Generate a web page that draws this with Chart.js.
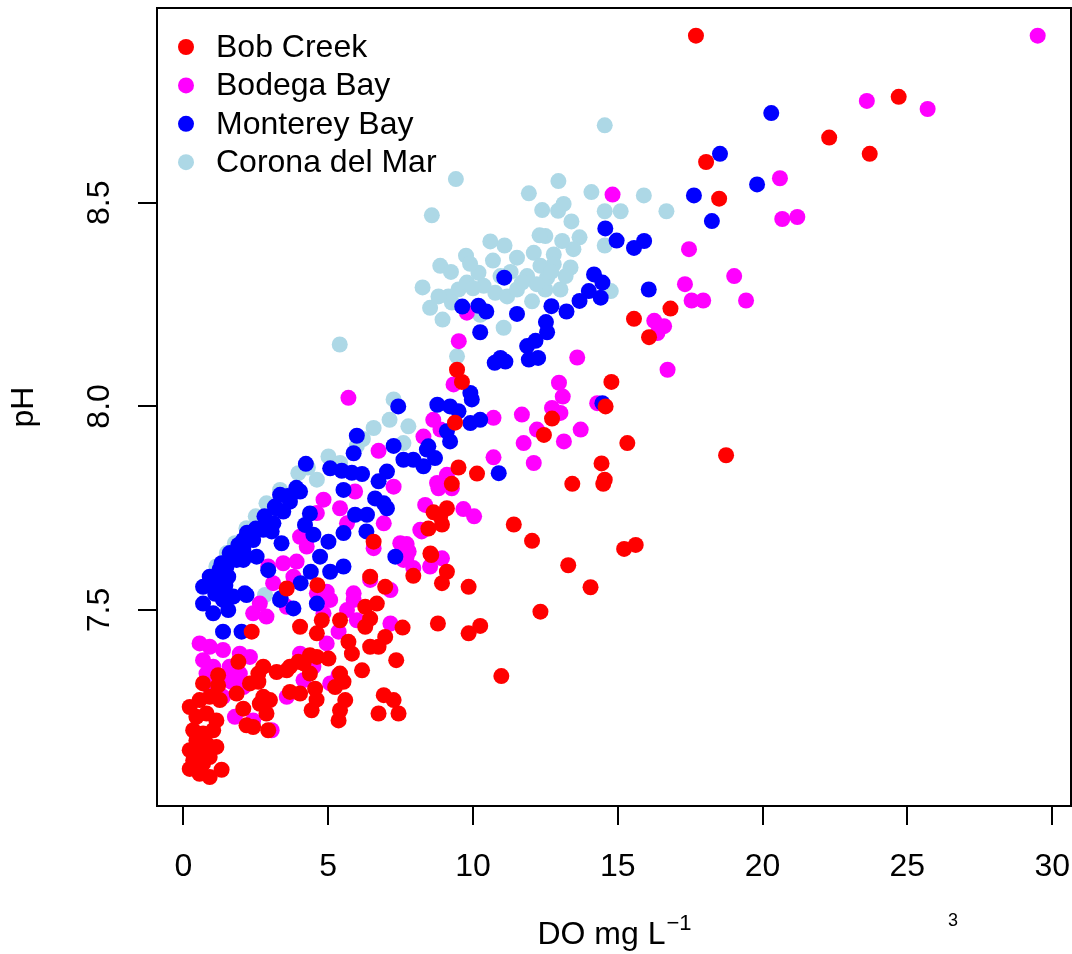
<!DOCTYPE html>
<html>
<head>
<meta charset="utf-8">
<script src="https://cdn.jsdelivr.net/npm/chart.js@4.4.0/dist/chart.umd.min.js"></script>
<style>
body { margin: 0; background: #fff; }
#wrap { width: 1072px; height: 954px; }
</style>
</head>
<body>
<div id="wrap"><canvas id="myChart" width="1072" height="954"></canvas></div>
<script>
const sites = ["Bob Creek", "Bodega Bay", "Monterey Bay", "Corona del Mar"];
const siteColors = ["#FF0000", "#FF00FF", "#0000FF", "#ADD8E6"];
const xTicks = [0, 5, 10, 15, 20, 25, 30];
const yTicks = [7.5, 8.0, 8.5];

// [DO mg/L, pH] per site
const bobCreek = [
  [17.7,8.91],[24.7,8.76],[22.3,8.66],[23.7,8.62],[18.05,8.6],[18.5,8.51],[18.74,7.88],[16.82,8.24],[15.56,8.215],[16.08,8.17],
  [9.45,8.09],[9.62,8.06],[14.78,8.06],[14.58,8.0],[12.73,7.97],[12.45,7.93],[15.33,7.91],[9.38,7.96],
  [14.44,7.86],[13.43,7.81],[14.55,7.82],[14.5,7.81],[9.5,7.85],[10.14,7.835],[9.27,7.81],
  [9.1,7.75],[8.64,7.74],[8.87,7.73],[8.46,7.7],[8.93,7.71],[11.41,7.71],[12.04,7.67],[15.22,7.65],[15.62,7.66],[13.29,7.61],[14.06,7.556],
  [8.56,7.635],[9.1,7.594],[7.94,7.584],[8.93,7.566],[9.85,7.557],[12.33,7.496],[8.79,7.467],[7.57,7.457],[10.25,7.461],[9.85,7.443],
  [10.98,7.338],[7.35,7.377],[7.26,7.279],[7.43,7.246],[6.57,7.668],[6.45,7.582],[6.97,7.557],[3.57,7.553],[4.63,7.561],
  [0.22,7.262],[0.56,7.279],[0.91,7.287],[1.26,7.279],[0.45,7.238],[0.8,7.246],[1.14,7.229],[0.34,7.205],[0.68,7.197],[1.03,7.205],
  [0.45,7.18],[0.8,7.172],[1.14,7.164],[0.22,7.156],[0.56,7.148],[0.91,7.139],[0.34,7.131],[0.68,7.123],[0.22,7.11],[0.56,7.098],
  [0.91,7.09],[1.32,7.108],
  [0.68,7.32],[1.2,7.34],[1.2,7.315],[1.9,7.373],[1.84,7.295],[2.07,7.258],[2.18,7.217],[2.41,7.213],[2.93,7.205],[2.3,7.32],
  [2.59,7.324],[2.76,7.361],[2.59,7.344],[2.76,7.287],[2.99,7.279],[2.87,7.246],[2.64,7.27],[3.22,7.348],[3.57,7.352],[3.68,7.299],
  [4.03,7.295],[4.55,7.307],[4.6,7.28],[4.43,7.254],[3.97,7.373],[4.37,7.389],[4.61,7.385],[5.01,7.381],[4.15,7.369],[4.37,7.344],
  [3.68,7.361],[4.03,7.459],[4.61,7.443],[4.78,7.475],[5.41,7.475],[5.7,7.422],[5.82,7.393],[5.41,7.344],[5.53,7.324],[5.24,7.311],
  [5.59,7.279],[5.41,7.254],[5.36,7.229],[6.17,7.352],[6.28,7.508],[6.68,7.516],[6.28,7.459],[6.45,7.479],[6.97,7.434],[6.45,7.41],
  [6.74,7.41],[6.74,7.246],[6.92,7.291],[8.53,7.639],[2.36,7.447]
];
const bodegaBay = [
  [29.5,8.91],[23.6,8.75],[25.7,8.73],[20.6,8.56],[20.68,8.46],[21.2,8.465],[19.02,8.32],[17.95,8.26],[19.43,8.26],[17.55,8.26],
  [17.46,8.386],[17.32,8.3],[16.26,8.21],[16.6,8.197],[16.37,8.18],[16.72,8.09],[14.82,8.52],[13.6,8.12],[9.51,8.16],[9.33,8.054],
  [12.97,8.058],[13.1,8.024],[12.73,7.996],[13.02,7.984],[14.29,8.008],[11.69,7.98],[10.71,7.972],[13.72,7.943],[12.21,7.943],[13.14,7.914],
  [11.75,7.91],[8.63,7.967],[8.29,7.926],[9.79,8.23],[12.1,7.861],[10.71,7.875],[9.1,7.832],[8.81,7.799],[9.27,7.799],[8.35,7.758],
  [9.67,7.748],[10.04,7.73],[8.23,7.693],[7.71,7.662],[7.71,7.631],[7.94,7.603],[8.93,7.627],[8.52,7.607],
  [5.7,8.021],[8.88,7.943],[6.74,7.891],[7.26,7.803],[8.76,7.812],[5.93,7.791],[4.84,7.771],[4.61,7.738],[5.41,7.75],[5.65,7.713],
  [6.92,7.713],[4.03,7.68],[4.26,7.656],[8.18,7.697],[7.49,7.664],[7.78,7.644],[6.57,7.652],[7.6,7.623],[3.45,7.615],[3.91,7.619],
  [6.45,7.574],[7.15,7.549],[3.1,7.566],[4.95,7.545],[5.88,7.541],
  [0.56,7.418],[0.91,7.41],[1.37,7.402],[1.95,7.393],[2.3,7.385],[0.68,7.377],[1.03,7.361],[1.6,7.361],[0.8,7.344],[1.37,7.336],
  [1.95,7.344],[0.91,7.311],[1.66,7.324],[2.07,7.311],[1.37,7.287],[1.78,7.238],[2.41,7.229],[3.05,7.205],[2.41,7.492],[2.64,7.516],
  [2.87,7.484],[3.8,7.582],[3.57,7.508],[4.61,7.541],[5.07,7.525],[4.84,7.492],[5.88,7.525],[5.65,7.5],[5.36,7.447],[4.95,7.418],
  [5.99,7.475],[4.03,7.393],[4.49,7.361],[4.15,7.328],[3.57,7.287],[5.07,7.32],[5.36,7.34],[7.15,7.467],[2.93,7.607]
];
const montereyBay = [
  [20.3,8.72],[18.53,8.62],[19.81,8.545],[18.25,8.455],[17.63,8.518],[16.07,8.287],[11.08,8.316],[9.63,8.245],[10.19,8.247],[10.46,8.233],
  [11.52,8.227],[10.25,8.182],[12.71,8.246],[13.23,8.233],[13.68,8.259],[14.18,8.324],[14.47,8.304],[14.0,8.283],[14.41,8.267],[12.52,8.207],
  [12.56,8.182],[12.16,8.161],[11.87,8.148],[11.93,8.115],[12.25,8.119],[10.75,8.107],[10.95,8.119],[11.12,8.11],[14.57,8.437],[14.96,8.407],
  [15.56,8.389],[15.91,8.406],[9.91,8.033],[9.96,8.017],[8.77,8.004],[9.21,8.0],[9.5,7.988],[9.91,7.959],[10.25,7.967],[9.1,7.939],
  [9.21,7.914],[8.46,7.902],[14.47,8.008],[7.42,8.0],[10.89,7.836],[8.41,7.894],[8.69,7.873],[8.29,7.853],[7.94,7.869],[7.6,7.869],
  [5.99,7.928],[5.88,7.885],[4.23,7.859],[5.07,7.848],[5.47,7.842],[5.82,7.837],[6.17,7.834],[7.26,7.903],[6.74,7.816],[7.03,7.84],
  [5.53,7.795],[6.62,7.774],[6.92,7.762],[7.03,7.75],[3.34,7.783],[3.68,7.766],[4.03,7.791],[3.16,7.754],[3.45,7.742],[4.37,7.737],
  [5.93,7.734],[6.34,7.734],[4.2,7.709],[5.53,7.689],[6.32,7.693],[4.49,7.685],[5.01,7.668],[4.72,7.631],[3.39,7.664],[3.05,7.693],
  [2.41,7.693],[2.07,7.672],[1.72,7.639],[1.32,7.615],[0.91,7.582],[0.68,7.557],[2.93,7.598],[2.53,7.631],[2.07,7.623],[1.55,7.582],
  [5.53,7.607],[5.07,7.594],[4.4,7.594],[4.05,7.566],[3.36,7.529],[7.32,7.631],
  [1.37,7.447],[2.01,7.447],[2.12,7.541],[0.68,7.516],[1.03,7.492],[1.37,7.525],[1.72,7.533],[1.55,7.5],[1.14,7.582],[1.49,7.607],
  [1.84,7.623],[2.07,7.648],[2.41,7.672],[2.76,7.697],[3.11,7.713],[2.18,7.537],[3.34,7.525],[3.8,7.504],[4.61,7.516],
  [1.0,7.57],[1.25,7.6],[1.6,7.64],[1.9,7.66],[2.2,7.69],[2.5,7.7],[2.8,7.73],[3.2,7.75],[3.6,7.78],[3.9,7.8],[1.1,7.54],[1.45,7.56]
];
const coronaDelMar = [
  [14.55,8.69],[9.41,8.558],[8.58,8.469],[11.93,8.523],[12.95,8.553],[14.09,8.526],[15.9,8.518],[16.68,8.479],[12.39,8.482],[12.94,8.48],
  [13.13,8.497],[13.4,8.454],[14.55,8.479],[15.1,8.479],[14.55,8.395],[13.68,8.415],[13.47,8.386],[12.5,8.418],[13.08,8.406],[10.6,8.405],
  [11.09,8.395],[9.76,8.37],[8.87,8.345],[9.24,8.33],[10.69,8.358],[11.52,8.365],[12.1,8.377],[12.79,8.373],[13.37,8.341],[8.26,8.292],
  [8.52,8.242],[8.95,8.213],[9.15,8.27],[9.5,8.287],[9.79,8.304],[10.19,8.328],[10.37,8.296],[10.77,8.279],[11.18,8.27],[11.52,8.287],
  [12.04,8.258],[12.5,8.287],[13.02,8.287],[12.33,8.345],[11.87,8.32],[14.76,8.283],[11.06,8.193],[10.25,8.225],[9.45,8.123],[9.27,8.255],
  [8.81,8.27],[12.79,8.349],[12.56,8.316],[11.69,8.304],[10.95,8.32],[12.3,8.42],[12.7,8.33],[13.2,8.32],[10.0,8.29],[11.3,8.33],
  [9.9,8.35],[12.2,8.3],[7.77,7.951],[7.6,7.91],[5.4,8.152],
  [7.26,8.017],[7.12,7.967],[6.57,7.947],[5.01,7.877],[5.41,7.861],[4.61,7.82],[3.97,7.836],[3.34,7.795],[2.87,7.762],[2.18,7.701],
  [1.78,7.664],[1.14,7.607],[2.82,7.537],[5.99,7.903],[6.2,7.92],[4.3,7.85],[2.5,7.73],[1.5,7.64]
];
const siteData = [bobCreek, bodegaBay, montereyBay, coronaDelMar];

const FONT = '"Liberation Sans", Arial, Helvetica, sans-serif';
Chart.defaults.font.family = FONT;

const decorations = {
  id: 'decorations',
  afterDraw(chart) {
    const ctx = chart.ctx;
    const a = chart.chartArea;
    const ys = chart.scales.y;
    ctx.save();
    // box around the plot
    ctx.strokeStyle = '#000';
    ctx.lineWidth = 2;
    ctx.strokeRect(a.left, a.top, a.right - a.left, a.bottom - a.top);

    ctx.fillStyle = '#000';
    ctx.font = '32px ' + FONT;
    ctx.textAlign = 'center';
    ctx.textBaseline = 'middle';
    // rotated y tick labels
    yTicks.forEach(v => {
      ctx.save();
      ctx.translate(100, ys.getPixelForValue(v));
      ctx.rotate(-Math.PI / 2);
      ctx.fillText(v.toFixed(1), 0, 0);
      ctx.restore();
    });
    // y title
    ctx.save();
    ctx.translate(33, (a.top + a.bottom) / 2);
    ctx.rotate(-Math.PI / 2);
    ctx.textBaseline = 'alphabetic';
    ctx.fillText('pH', 0, 0);
    ctx.restore();

    // x title with superscript
    ctx.textBaseline = 'alphabetic';
    ctx.textAlign = 'left';
    const main = 'DO mg L';
    const sup = '\u22121';
    const wMain = ctx.measureText(main).width;
    ctx.font = '22px ' + FONT;
    const wSup = ctx.measureText(sup).width;
    const x0 = (a.left + a.right) / 2 - (wMain + wSup) / 2;
    ctx.font = '32px ' + FONT;
    ctx.fillText(main, x0, 944);
    ctx.font = '22px ' + FONT;
    ctx.fillText(sup, x0 + wMain + 1, 930);
    ctx.font = '18px ' + FONT;
    ctx.textAlign = 'center';
    ctx.fillText('3', 953, 926);

    // legend
    ctx.font = '32px ' + FONT;
    ctx.textAlign = 'left';
    ctx.textBaseline = 'middle';
    sites.forEach((name, i) => {
      const ly = 47 + i * 38.4;
      ctx.fillStyle = siteColors[i];
      ctx.beginPath();
      ctx.arc(186, ly, 8, 0, Math.PI * 2);
      ctx.fill();
      ctx.fillStyle = '#000';
      ctx.fillText(name, 216, ly + 1);
    });
    ctx.restore();
  }
};

const ctx = document.getElementById('myChart').getContext('2d');
const chart = new Chart(ctx, {
  type: 'scatter',
  data: {
    datasets: sites.map((name, i) => ({
      label: name,
      data: siteData[i].map(p => ({ x: p[0], y: p[1] })),
      backgroundColor: siteColors[i],
      borderWidth: 0,
      pointRadius: 8,
      pointHoverRadius: 8,
      order: [0, 2, 1, 3][i]
    }))
  },
  options: {
    responsive: false,
    animation: false,
    events: [],
    layout: { autoPadding: false, padding: { top: 8, right: 1, left: 0, bottom: 0 } },
    plugins: { legend: { display: false }, tooltip: { enabled: false } },
    scales: {
      x: {
        type: 'linear',
        min: -0.91,
        max: 30.65,
        afterBuildTicks: s => { s.ticks = xTicks.map(v => ({ value: v })); },
        afterFit: s => { s.height = 148; s.paddingLeft = 0; s.paddingRight = 0; },
        grid: { drawOnChartArea: false, drawTicks: true, tickLength: 19, color: '#000', lineWidth: 2 },
        border: { display: false },
        ticks: { color: '#000', font: { size: 32 }, padding: 23, maxRotation: 0, autoSkip: false }
      },
      y: {
        type: 'linear',
        min: 7.019,
        max: 8.978,
        afterBuildTicks: s => { s.ticks = yTicks.map(v => ({ value: v })); },
        afterFit: s => { s.width = 157; s.paddingTop = 0; s.paddingBottom = 0; },
        grid: { drawOnChartArea: false, drawTicks: true, tickLength: 19, color: '#000', lineWidth: 2 },
        border: { display: false },
        ticks: { display: false }
      }
    }
  },
  plugins: [decorations]
});
</script>
</body>
</html>
